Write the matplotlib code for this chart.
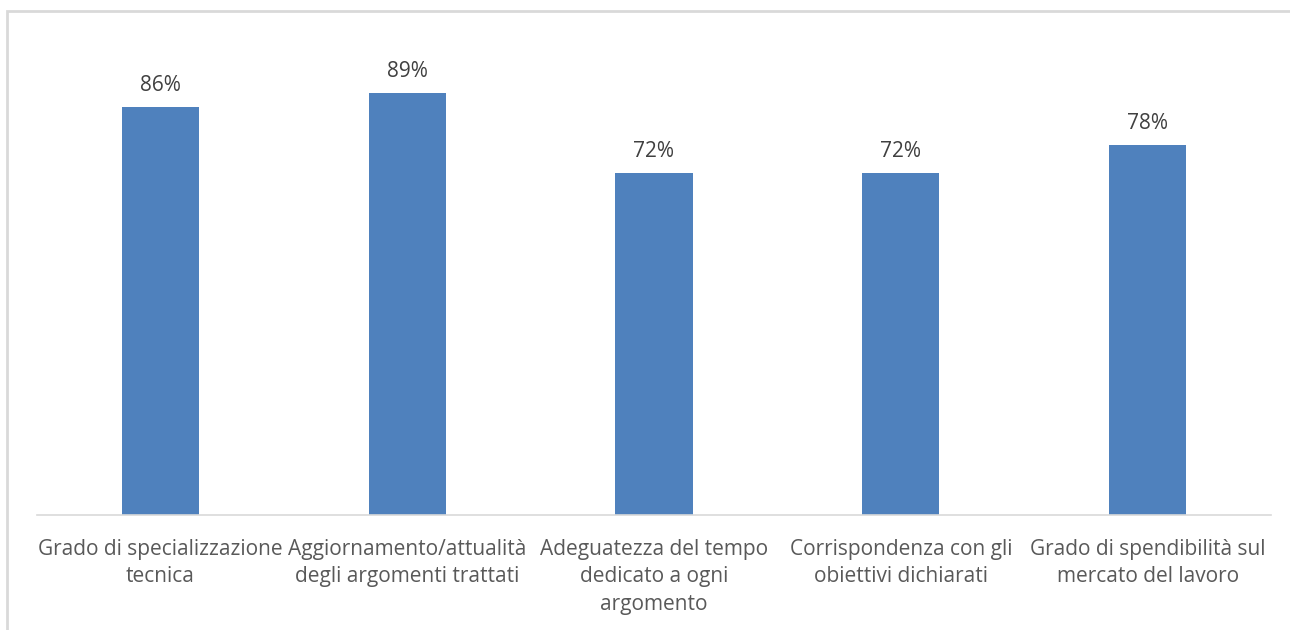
import matplotlib.pyplot as plt
from matplotlib.patches import Rectangle

categories = [
    "Grado di specializzazione\ntecnica",
    "Aggiornamento/attualità\ndegli argomenti trattati",
    "Adeguatezza del tempo\ndedicato a ogni\nargomento",
    "Corrispondenza con gli\nobiettivi dichiarati",
    "Grado di spendibilità sul\nmercato del lavoro",
]
values = [86, 89, 72, 72, 78]

plt.rcParams['font.family'] = ['Open Sans', 'DejaVu Sans']

fig = plt.figure(figsize=(12.9, 6.3), dpi=100)
ax = fig.add_axes([37 / 1290, 1 - 515 / 630, 1234 / 1290, 474.5 / 630])

x = range(len(values))
bars = ax.bar(x, values, width=0.313, color='#4F81BD')

for b, v in zip(bars, values):
    ax.annotate(f"{v}%", (b.get_x() + b.get_width() / 2, v),
                xytext=(0, 8), textcoords='offset points',
                ha='center', va='bottom', fontsize=15, color='#404040')

ax.set_xlim(-0.5, len(values) - 0.5)
ax.set_ylim(0, 100)
ax.set_xticks(list(x))
ax.set_xticklabels(categories, fontsize=15, color='#595959', linespacing=1.42)
ax.tick_params(axis='x', length=0, pad=17)
ax.set_yticks([])
for side in ['left', 'right', 'top']:
    ax.spines[side].set_visible(False)
ax.spines['bottom'].set_color('#D9D9D9')
ax.spines['bottom'].set_linewidth(1.2)

# chart frame, running off the right and bottom edges
fig.patches.append(Rectangle((7 / 1290, -0.05), 1.1, 1 - 11 / 630 + 0.05,
                             transform=fig.transFigure, fill=False,
                             edgecolor='#D9D9D9', linewidth=2))

fig.savefig('out.png', dpi=100)
